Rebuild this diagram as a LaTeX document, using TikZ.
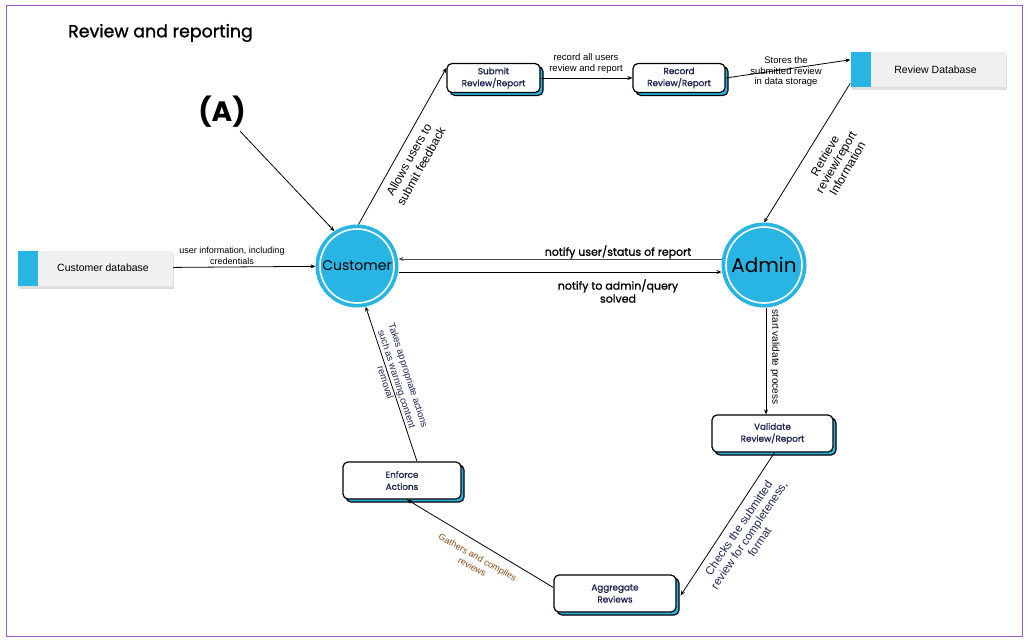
\documentclass[tikz,border=0pt]{standalone}
\usepackage{fontspec}
\setmainfont{Liberation Sans}
\newfontfamily\popfont{Poppins}
\newfontfamily\popmed[FakeBold=1.2]{Poppins}
\usetikzlibrary{arrows.meta, shadows, positioning}
\definecolor{cblue}{HTML}{29B5E3}
\definecolor{framecol}{HTML}{9B59D0}
\definecolor{navy}{HTML}{1E2552}
\definecolor{rust}{HTML}{8A4B12}
\tikzset{
  circnode/.style={circle,fill=cblue,draw=white,line width=1.6pt,preaction={draw=cblue,line width=9pt},outer sep=4.5pt,inner sep=0pt,font=\popfont},
  procbox/.style={rectangle,rounded corners=5pt,draw=black,line width=1.2pt,fill=white,align=center,inner sep=2pt,font=\popmed\fontsize{8.8}{12}\selectfont,text=navy,
    general shadow={fill=cblue,draw=black,line width=1.2pt,shadow xshift=3pt,shadow yshift=-3pt}},
  dbbox/.style={rectangle,fill=gray!12,minimum width=155pt,minimum height=35pt,inner sep=0pt,font=\fontsize{10.5}{12}\selectfont,
    path picture={\fill[cblue] (path picture bounding box.south west) rectangle ([xshift=20pt]path picture bounding box.north west);},
    drop shadow={shadow xshift=1pt,shadow yshift=-3pt,opacity=0.25},execute at begin node={\hspace*{15pt}}},
  arr/.style={-{Stealth[length=5pt,width=4pt]},line width=0.8pt},
  lbl/.style={align=center,inner sep=1pt,font=\fontsize{9.5}{11}\selectfont},
  plbl/.style={align=center,inner sep=1pt,font=\popmed\fontsize{11}{13}\selectfont}
}
\begin{document}
\begin{tikzpicture}[x=1pt,y=-1pt]
  \useasboundingbox (0,0) rectangle (1028,641);
  \draw[framecol,line width=1pt] (6,5) rectangle (1022,636);

  % headings
  \node[anchor=west,inner sep=0pt,font=\popmed\fontsize{17.4}{20}\selectfont] (title) at (68,33) {Review and reporting};
  \node[font=\popfont\bfseries\fontsize{28}{30}\selectfont] (A) at (222,112) {(A)};

  % processes and stores
  \node[circnode,minimum size=74pt,font=\popfont\fontsize{14}{16}\selectfont] (cust) at (357,266) {Customer};
  \node[circnode,minimum size=76pt,font=\popfont\fontsize{20}{22}\selectfont] (admin) at (764,265) {Admin};

  \node[dbbox] (cdb) at (95.5,268) {Customer database};
  \node[dbbox] (rdb) at (928,69.5) {Review Database};

  \node[procbox,minimum width=93pt,minimum height=29pt] (submit) at (493.5,78) {Submit\\Review/Report};
  \node[procbox,minimum width=92pt,minimum height=29pt] (record) at (679,78) {Record\\Review/Report};
  \node[procbox,minimum width=121pt,minimum height=37pt] (valid) at (772.5,433.5) {Validate\\Review/Report};
  \node[procbox,minimum width=122pt,minimum height=37pt] (aggr) at (615,593.5) {Aggregate\\Reviews};
  \node[procbox,minimum width=118pt,minimum height=37pt] (enforce) at (402,480.5) {Enforce\\Actions};

  % flows
  \draw[arr] (A) -- (cust.123);
  \draw[arr] (cdb) -- (cust);
  \draw[arr] (cust.88) -- ([yshift=-5pt]submit.north west);
  \draw[arr] (submit) -- (record);
  \draw[arr] (record.east) -- ([yshift=-8pt]rdb.north west);
  \draw[arr] ([yshift=4pt]rdb.south west) -- (admin.north);
  \draw[arr,draw=black!70] ([yshift=6pt]admin.west) -- ([yshift=6pt]admin.west -| cust.east);
  \draw[arr] ([yshift=-6pt]cust.east) -- ([yshift=-6pt]cust.east -| admin.west);
  \draw[arr] ([xshift=2pt]admin.south) -- ([xshift=2pt]admin.south |- valid.north);
  \draw[arr] ([xshift=2pt]valid.south) -- ([xshift=4pt,yshift=-2pt]aggr.east);
  \draw[arr] ([yshift=6pt]aggr.west) -- ([xshift=5pt]enforce.south);
  \draw[arr] ([xshift=15pt]enforce.north) -- (cust.-78);

  % labels
  \node[lbl,font=\fontsize{9}{10.5}\selectfont] (l1) at (232,256) {user information, including\\credentials};
  \node[lbl] (l2) at (586,64) {record all users\\review and report};
  \node[lbl,font=\fontsize{9.5}{10.5}\selectfont] (l3) at (786,72) {Stores the\\submitted review\\in data storage};
  \node[lbl,rotate=61,font=\fontsize{12}{14}\selectfont] (l4) at (415,163) {Allows users to\\submit feedback};
  \node[lbl,rotate=60,font=\fontsize{12}{13}\selectfont] (l5) at (836,162) {Retrieve\\review/report\\Information};
  \node[plbl] (l6) at (618,252) {notify user/status of report};
  \node[plbl] (l7) at (618,291) {notify to admin/query\\solved};
  \node[lbl,rotate=-90,font=\fontsize{10}{11}\selectfont] (l8) at (775,357) {start validate process};
  \node[lbl,rotate=56,text=navy,font=\fontsize{11.5}{12.5}\selectfont] (l9) at (749,535) {Checks the submitted\\review for completeness,\\format};
  \node[lbl,rotate=-29,text=rust,font=\fontsize{9}{11}\selectfont] (l10) at (475,562) {Gathers and compiles\\reviews};
  \node[lbl,rotate=-72,text=navy,font=\fontsize{9.5}{12}\selectfont] (l11) at (397,379) {Takes appropriate actions\\such as warning,content\\removal};
\end{tikzpicture}
\end{document}
